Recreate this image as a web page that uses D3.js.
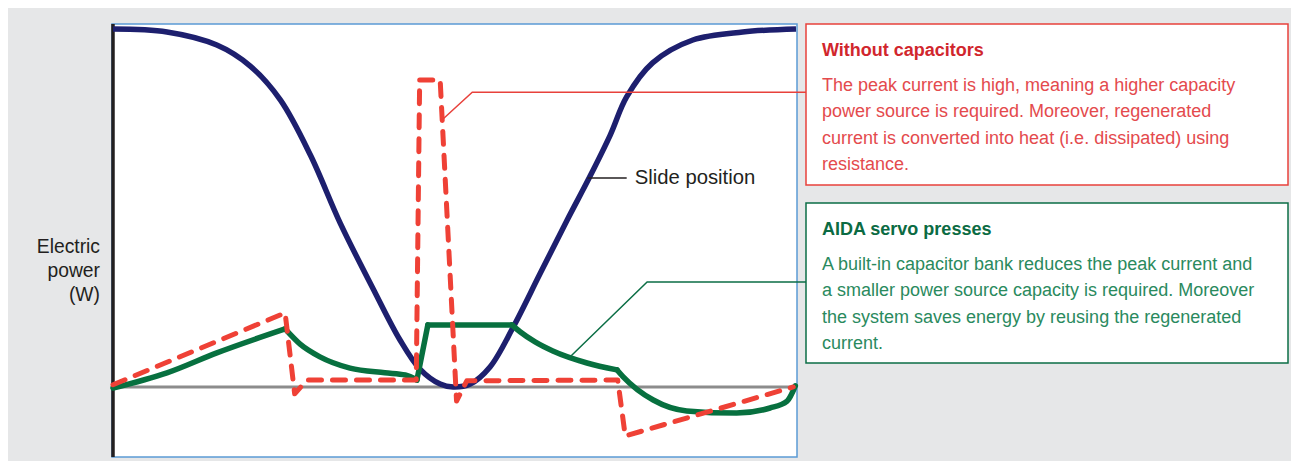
<!DOCTYPE html>
<html>
<head>
<meta charset="utf-8">
<script src="https://cdn.jsdelivr.net/npm/d3@7"></script>
<style>
  body { margin: 0; background: #fff; }
  svg { display: block; font-family: "Liberation Sans", Arial, sans-serif; }
</style>
</head>
<body>
<div id="chart"></div>
<script>
// time axis runs 0..100 (one stroke), power in arbitrary units (0 = no draw)
const slideT = [0, 7.9, 15.2, 20.1, 24.5, 28.9, 33.3, 38.1, 42.0, 44.9, 47.9, 49.8, 52.3, 55.2, 58.6, 62.5, 66.5, 69.8, 72.8, 75.2, 79.0, 84.9, 92.2, 100]
const slideV = [98.6, 97.8, 94.2, 88.4, 79.1, 63.9, 45.0, 27.0, 13.0, 5.0, 0.8, 0, 0.8, 5.5, 16.5, 31.1, 46.0, 57.9, 69.4, 79.9, 89.3, 95.6, 97.8, 98.6]

// without capacitors (dashed red)
const noCapT = [0, 25.2, 26.6, 28.4, 44.4, 44.9, 47.9, 50.3, 51.8, 73.9, 75.0, 99.6]
const noCapV = [0.6, 20.4, -1.9, 1.9, 1.9, 84.6, 84.6, -3.9, 1.7, 1.9, -13.5, 0]

// AIDA servo (green), one array per stretch between the corners
const servoT = [
    [0, 7.9, 15.2, 25.2],
    [25.2, 27.4, 30.3, 34.7, 39.8, 42.8, 44.5],
    [44.5, 46.1],
    [46.1, 58.4],
    [58.4, 59.6, 61.8, 64.4, 69.4, 73.8],
    [73.8, 74.7, 79.1, 84.0, 91.3, 96.2, 98.7, 99.9]
]
const servoV = [
    [-0.3, 3.9, 9.4, 16.0],
    [16.0, 11.8, 8.3, 5.2, 3.9, 3.3, 1.9],
    [1.9, 17.1],
    [17.1, 17.1],
    [17.1, 15.2, 12.4, 9.9, 6.6, 4.7],
    [4.7, 2.8, -3.6, -6.6, -7.2, -5.8, -3.9, 0.3]
]

const axisLabel = ["Electric", "power", "(W)"]
const slideLabel = "Slide position"

const redTitle = "Without capacitors"
const redLines = [
    "The peak current is high, meaning a higher capacity",
    "power source is required. Moreover, regenerated",
    "current is converted into heat (i.e. dissipated) using",
    "resistance."
]
const greenTitle = "AIDA servo presses"
const greenLines = [
    "A built-in capacitor bank reduces the peak current and",
    "a smaller power source capacity is required. Moreover",
    "the system saves energy by reusing the regenerated",
    "current."
]

// callout anchors in data units [t, v]
const redCallout = [[48.2, 73.6], [52.6, 81.2]]
const greenCallout = [[66.6, 7.7], [78.2, 28.9]]
const slideAnchor = [69.5, 57.6]

const width = 1291
const height = 461

const svg = d3.select("#chart").append("svg")
    .attr("width", width)
    .attr("height", height)

svg.append("rect")
    .attr("x", 8).attr("y", 8)
    .attr("width", width - 8).attr("height", height - 8)
    .attr("fill", "#e6e7e8")

const plot = { left: 113, right: 797, top: 24, bottom: 457 }

const xScale = d3.scaleLinear().domain([0, 100]).range([plot.left, plot.right - 1])
const yScale = d3.scaleLinear().domain([-19.3, 100]).range([plot.bottom, plot.top])

svg.append("rect")
    .attr("x", plot.left - 1).attr("y", plot.top)
    .attr("width", plot.right - plot.left + 1).attr("height", plot.bottom - plot.top)
    .attr("fill", "#fff")
    .attr("stroke", "#5b9bd5")
    .attr("stroke-width", 1.5)

// zero line
svg.append("line")
    .attr("x1", plot.left).attr("x2", plot.right - 1)
    .attr("y1", yScale(0)).attr("y2", yScale(0))
    .attr("stroke", "#8c8c8c")
    .attr("stroke-width", 3)

// y axis, no ticks
svg.append("g")
    .attr("transform", `translate(${plot.left}, 0)`)
    .call(d3.axisLeft(yScale).tickValues([]).tickSizeOuter(0))
    .call(g => g.select(".domain")
        .attr("d", `M0,${plot.top}V${plot.bottom}`)
        .attr("stroke", "#231f20")
        .attr("stroke-width", 3.5))

const zipPts = (ts, vs) => ts.map((t, i) => [t, vs[i]])

const smooth = d3.line()
    .x(d => xScale(d[0]))
    .y(d => yScale(d[1]))
    .curve(d3.curveMonotoneX)

const straight = d3.line()
    .x(d => xScale(d[0]))
    .y(d => yScale(d[1]))

svg.append("path")
    .attr("d", d3.line()
        .x(d => xScale(d[0]))
        .y(d => yScale(d[1]))
        .curve(d3.curveCatmullRom.alpha(0.5))(zipPts(slideT, slideV)))
    .attr("fill", "none")
    .attr("stroke", "#1d1f6e")
    .attr("stroke-width", 5.5)

svg.selectAll(".servo")
    .data(servoT.map((ts, i) => zipPts(ts, servoV[i])))
    .join("path")
    .attr("class", "servo")
    .attr("d", smooth)
    .attr("fill", "none")
    .attr("stroke", "#07703f")
    .attr("stroke-width", 5.5)
    .attr("stroke-linecap", "round")
    .attr("stroke-linejoin", "round")

svg.append("path")
    .attr("d", straight(zipPts(noCapT, noCapV)))
    .attr("fill", "none")
    .attr("stroke", "#ef4136")
    .attr("stroke-width", 5)
    .attr("stroke-dasharray", "13,11")
    .attr("stroke-linecap", "round")
    .attr("stroke-linejoin", "round")

// callout boxes
const boxX = 806
const boxW = 482
const boxes = [
    { y: 24, h: 161, stroke: "#e8413b", title: redTitle, titleColor: "#d1262d", lines: redLines, color: "#e44a4d", callout: redCallout },
    { y: 203, h: 160, stroke: "#0b6e45", title: greenTitle, titleColor: "#0b6b43", lines: greenLines, color: "#2a8a5e", callout: greenCallout }
]

boxes.forEach(b => {
    const pts = b.callout.map(p => [xScale(p[0]), yScale(p[1])])
    svg.append("path")
        .attr("d", d3.line()([...pts, [boxX, pts[1][1]]]))
        .attr("fill", "none")
        .attr("stroke", b.stroke)
        .attr("stroke-width", 1.5)

    svg.append("rect")
        .attr("x", boxX).attr("y", b.y)
        .attr("width", boxW).attr("height", b.h)
        .attr("fill", "#fff")
        .attr("stroke", b.stroke)
        .attr("stroke-width", 1.5)

    svg.append("text")
        .attr("x", boxX + 16).attr("y", b.y + 31.5)
        .attr("fill", b.titleColor)
        .attr("font-size", 18)
        .attr("font-weight", "bold")
        .text(b.title)

    svg.append("g").selectAll("text")
        .data(b.lines)
        .join("text")
        .attr("x", boxX + 16)
        .attr("y", (d, i) => b.y + 66.5 + i * 26.6)
        .attr("fill", b.color)
        .attr("font-size", 18)
        .text(d => d)
})

// slide position label
const sx = xScale(slideAnchor[0])
const sy = yScale(slideAnchor[1])
svg.append("line")
    .attr("x1", sx).attr("x2", sx + 39)
    .attr("y1", sy).attr("y2", sy)
    .attr("stroke", "#231f20")
    .attr("stroke-width", 1.5)
svg.append("text")
    .attr("x", sx + 47).attr("y", sy + 6.5)
    .attr("fill", "#231f20")
    .attr("font-size", 20.3)
    .text(slideLabel)

// y label
svg.append("g").selectAll("text")
    .data(axisLabel)
    .join("text")
    .attr("x", 100)
    .attr("y", (d, i) => 253 + i * 24)
    .attr("text-anchor", "end")
    .attr("fill", "#231f20")
    .attr("font-size", 19.3)
    .text(d => d)
</script>
</body>
</html>
